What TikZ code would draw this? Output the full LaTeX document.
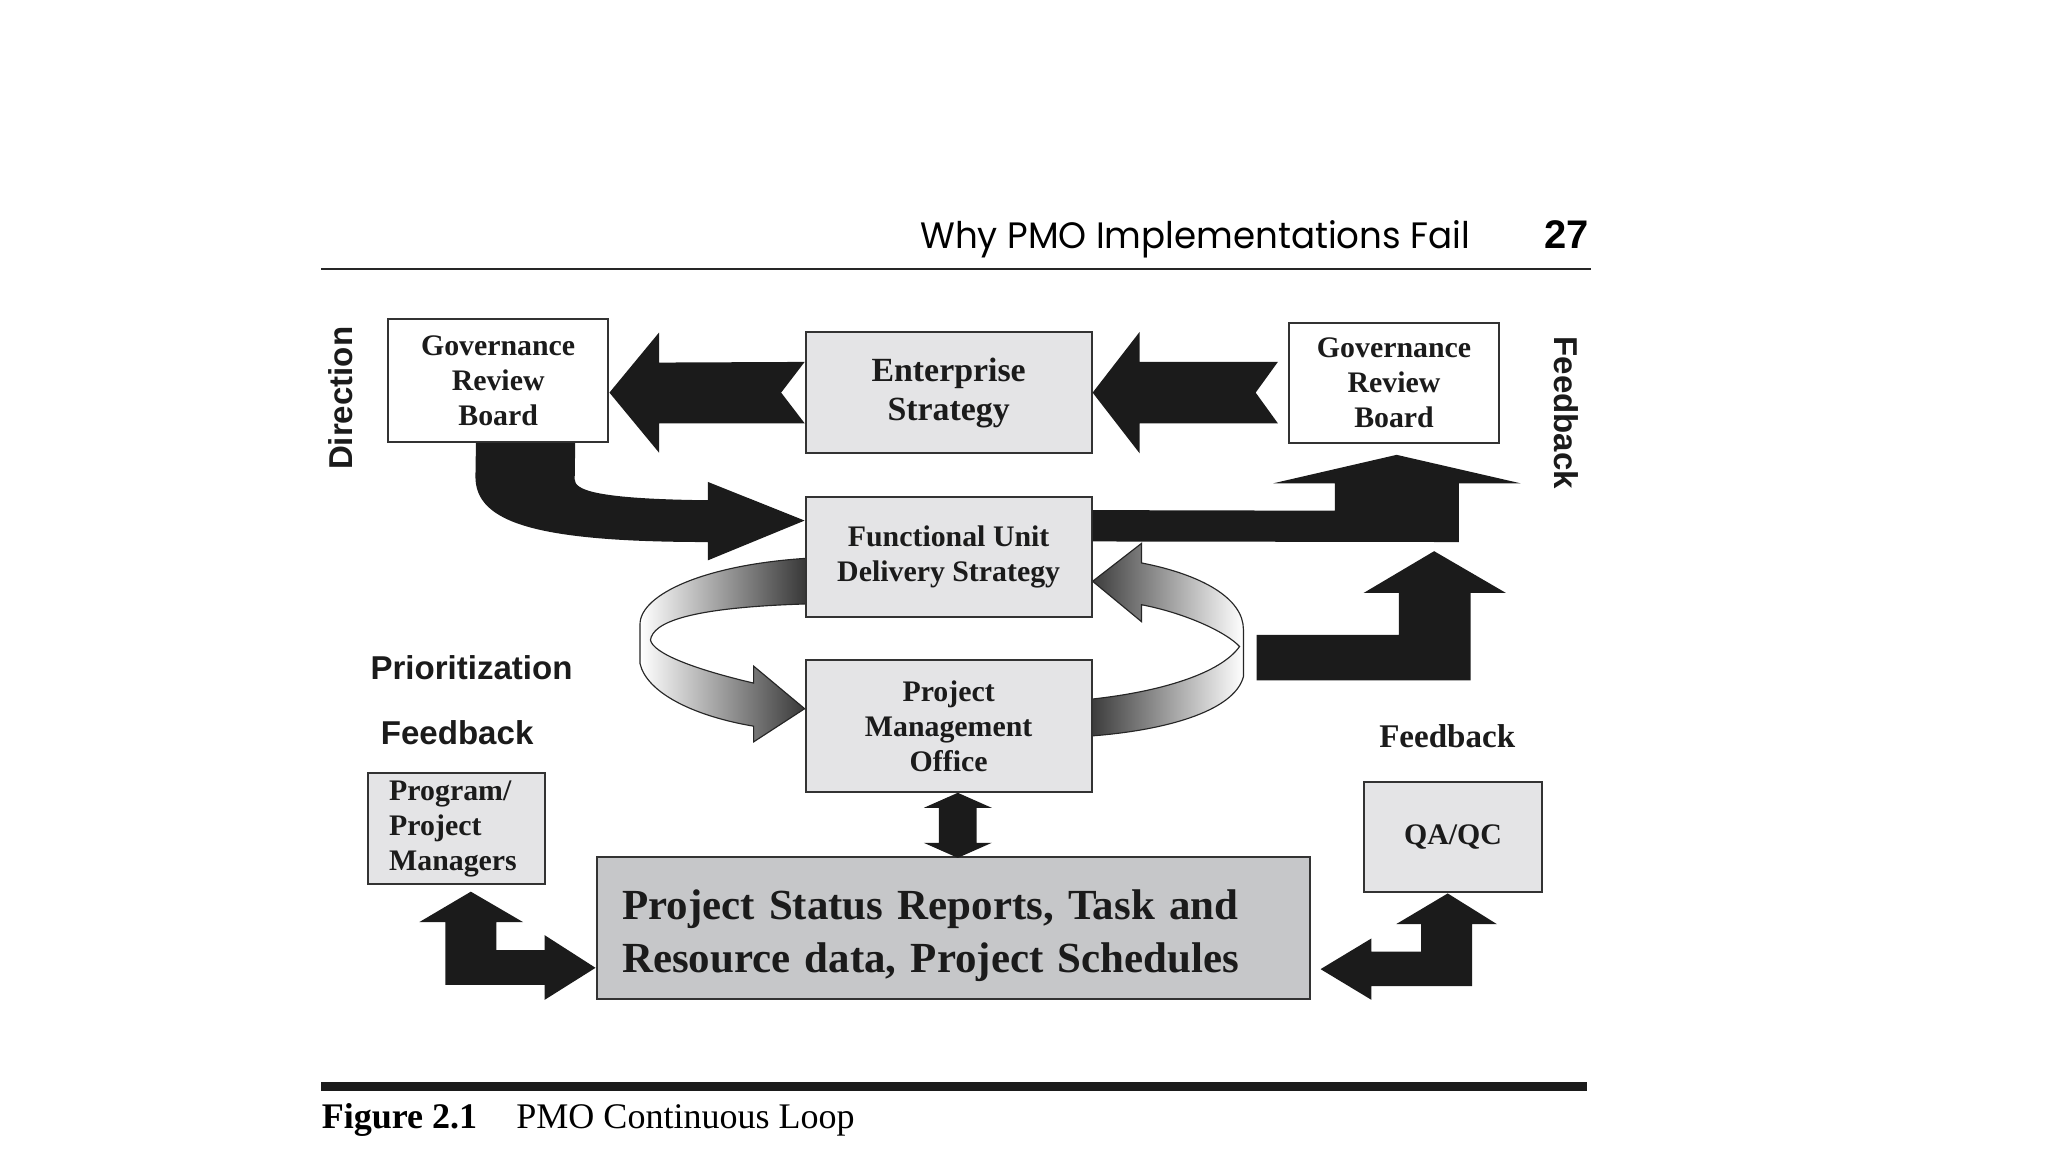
\documentclass[tikz,border=0pt]{standalone}
\usepackage{fontspec}
\setmainfont{Liberation Serif}
\newfontfamily\labelfont{Liberation Sans}
\newfontfamily\headfont{Poppins}[FakeStretch=0.97]
\usetikzlibrary{calc, backgrounds}
\definecolor{boxGray}{HTML}{E4E4E6}
\definecolor{statusGray}{HTML}{C6C7C9}
\definecolor{inkColor}{HTML}{1B1B1B}

\begin{document}
\begin{tikzpicture}[x=0.2mm, y=-0.2mm,
    box/.style={draw=black!80, line width=0.9pt, fill=boxGray, text=inkColor,
        align=center, inner sep=0pt, font=\bfseries\fontsize{13}{15.2}\selectfont},
    blk/.style={fill=inkColor},
    ribbon/.style={draw=black!85, line width=0.5pt},
    sidelabel/.style={text=inkColor, font=\labelfont\bfseries\fontsize{14.4}{17}\selectfont}]

\useasboundingbox (0,0) rectangle (1568,882);

% running head
\node[anchor=base east, inner sep=0pt, font=\headfont\fontsize{16}{19}\selectfont] (runhead) at (1126,190) {Why PMO Implementations Fail};
\node[anchor=base east, inner sep=0pt, font=\labelfont\bfseries\fontsize{17.4}{20}\selectfont] (pagenum) at (1217,190) {27};
\draw[line width=0.8pt, black!85] (246,206) -- (1218,206);

% boxes
\node[box, fill=white, minimum width=33.76mm, minimum height=18.74mm] (grbL) at (381.4,291.4) {Governance\\Review\\Board};
\node[box, minimum width=43.78mm, minimum height=18.62mm, font=\bfseries\fontsize{14.75}{17}\selectfont] (es) at (726.3,300.6) {Enterprise\\Strategy};
\node[box, fill=white, minimum width=32.06mm, minimum height=18.46mm] (grbR) at (1067.3,293.3) {Governance\\Review\\Board};
\node[box, minimum width=43.78mm, minimum height=18.38mm] (fuds) at (726.3,426.3) {Functional Unit\\Delivery Strategy};
\node[box, minimum width=43.78mm, minimum height=20.16mm] (pmo) at (726.3,555.8) {Project\\Management\\Office};
\node[box, align=left, text width=20.6mm, inner xsep=3.2mm, minimum height=16.96mm] (ppm) at (349.5,634.5) {Program/\\Project\\Managers};
\node[box, fill=statusGray, align=left, text width=101.5mm, inner xsep=3.9mm, minimum height=21.84mm, font=\bfseries\fontsize{18.7}{23.3}\selectfont] (status) at (730,710.6) {\rule{0pt}{19.6pt}Project Status Reports, Task and\\Resource data, Project Schedules};
\node[box, minimum width=27.24mm, minimum height=16.94mm] (qa) at (1112.4,640.9) {QA/QC};

% side labels
\node[sidelabel, rotate=90] (direction) at (261,305) {Direction};
\node[sidelabel, rotate=-90] (feedbackTop) at (1199,316) {Feedback};
\node[sidelabel] (priority) at (361,511) {Prioritization};
\node[sidelabel] (feedbackLeft) at (350,561) {Feedback};
\node[text=inkColor, font=\bfseries\fontsize{14.4}{17}\selectfont] (feedbackRight) at (1108,564) {Feedback};

% the loop between delivery strategy and PMO
\begin{scope}[on background layer]
  \draw[ribbon, left color=white, right color=black!80]
    ($(fuds.west)+(4,1)$) .. controls (540,432) and (490,455) .. (490,478)
    -- (490,508) .. controls (495,530) and (530,548) .. (577,556)
    -- (577,568) -- ($(pmo.north west)+(0,38)$) -- (577,510) -- (577,523)
    .. controls (530,512) and (500,500) .. (498,490)
    .. controls (500,477) and (525,465) .. ($(fuds.west)+(4,36)$) -- cycle;
  \draw[ribbon, left color=black!80, right color=white]
    ($(fuds.south east)+(0,-28)$) -- (874,416) -- (874,431)
    .. controls (920,440) and (952,458) .. (952,482) -- (952,518)
    .. controls (945,545) and (890,560) .. ($(pmo.east)+(-6,8)$)
    -- ($(pmo.east)+(-6,-20)$)
    .. controls (890,530) and (935,515) .. (949,495)
    .. controls (940,485) and (910,470) .. (874,463)
    -- (874,476) -- cycle;
\end{scope}

% block arrows
\fill[blk] (grbL.east |- es.west) -- ++(38,-46) -- ++(0,23) -- ($(es.west)+(0,-23.5)$) -- ++(-18,23.5) -- ++(18,23.5) -- ($(grbL.east |- es.west)+(38,23.5)$) -- ++(0,22.5) -- cycle;
\fill[blk] (es.east) -- ++(36,-46.5) -- ++(0,23) -- ($(grbR.west |- es.east)+(-8,-23.5)$) -- ++(-17,23.5) -- ++(17,23.5) -- ($(es.east)+(36,23.5)$) -- ++(0,23) -- cycle;
\fill[blk] ($(fuds.north east)+(0,11)$) -- (1022,391) -- (1022,370) -- (975,370) -- ($(grbR.south)+(2,8)$) -- (1164,370) -- (1117,370) -- (1117,415) -- ($(fuds.north east)+(0,35)$) -- cycle;
\coordinate (loopOut) at (962,486);
\fill[blk] (loopOut) -- (1071,486) -- (1071,454) -- (1044,454) -- (1098,422) -- (1153,454) -- (1126,454) -- (1126,521) -- ($(loopOut)+(0,35)$) -- cycle;
\fill[blk] ($(grbL.south)+(-17,0)$) -- (364,365) .. controls (364,400) and (410,415) .. (542,415) -- (542,429) -- ($(fuds.north west)+(0,19)$) -- (542,369) -- (542,383) .. controls (455,382) and (440,375) .. (440,367) -- ($(grbL.south)+(59,0)$) -- cycle;
\fill[blk] ($(pmo.south)+(7,0)$) -- ++(26,11.5) -- ++(-11.5,0) -- ++(0,26.8) -- ++(11.5,0) -- ++(-26,11.5) -- ++(-26,-11.5) -- ++(11.5,0) -- ++(0,-26.8) -- ++(-11.5,0) -- cycle;
\fill[blk] ($(ppm.south)+(11,5)$) -- (400.5,706) -- (380,706) -- (380,727.5) -- (417,727.5) -- (417,716) -- ($(status.south west)+(0,-25)$) -- (417,765.5) -- (417,754) -- (341,754) -- (341,706) -- (321,706) -- cycle;
\fill[blk] ($(qa.south)+(-4,0)$) -- (1146,707.5) -- (1127,707.5) -- (1127,755) -- (1050,755) -- (1050,765.5) -- ($(status.south east)+(7,-24)$) -- (1050,718.5) -- (1050,728.5) -- (1088,728.5) -- (1088,707.5) -- (1069,707.5) -- cycle;

% caption
\draw[line width=3.9pt, inkColor] (246,831.6) -- (1215,831.6);
\node[anchor=base west, inner sep=0pt, font=\bfseries\fontsize{15.7}{18}\selectfont] (capnum) at (246,864) {Figure 2.1};
\node[anchor=base west, inner sep=0pt, font=\fontsize{15.7}{18}\selectfont] (captitle) at (395,864) {PMO Continuous Loop};
\end{tikzpicture}
\end{document}
